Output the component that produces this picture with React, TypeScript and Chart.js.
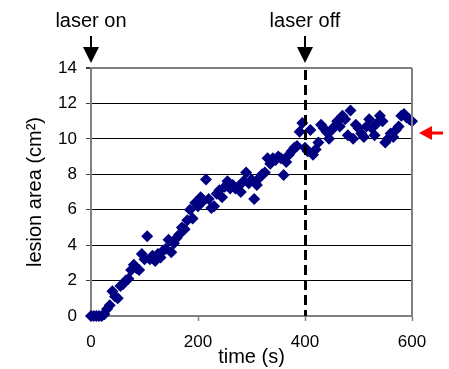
import React, { useEffect, useRef } from "react";
import { Chart, registerables } from "chart.js";

Chart.register(...registerables);

const times: number[] = [
  0, 5, 10, 15, 20, 25, 30, 35, 40, 45, 50, 55, 60, 65, 70, 75, 80, 85, 90, 95,
  100, 105, 110, 115, 120, 125, 130, 135, 140, 145, 150, 155, 160, 165, 170, 175, 180, 185, 190, 195,
  200, 205, 210, 215, 220, 225, 230, 235, 240, 245, 250, 255, 260, 265, 270, 275, 280, 285, 290, 295,
  300, 305, 310, 315, 320, 325, 330, 335, 340, 345, 350, 355, 360, 365, 370, 375, 380, 385, 390, 395,
  400, 405, 410, 415, 420, 425, 430, 435, 440, 445, 450, 455, 460, 465, 470, 475, 480, 485, 490, 495,
  500, 505, 510, 515, 520, 525, 530, 535, 540, 545, 550, 555, 560, 565, 570, 575, 580, 585, 590, 595, 600,
];

const lesionArea: number[] = [
  0, 0, 0, 0, 0, 0.1, 0.4, 0.6, 1.4, 1.1, 1.0, 1.7, 1.8, 2.0, 2.1, 2.6, 2.9, 2.7, 2.6, 3.5,
  3.2, 4.5, 3.2, 3.4, 3.1, 3.5, 3.3, 3.7, 3.8, 4.3, 3.6, 4.1, 4.4, 4.6, 5.0, 4.9, 5.4, 6.0, 5.5, 6.4,
  6.2, 6.7, 6.5, 7.7, 6.6, 6.1, 6.2, 6.9, 7.1, 6.7, 7.3, 7.6, 7.2, 7.4, 7.2, 7.3, 7.0, 7.6, 8.1, 7.5,
  7.7, 6.6, 7.4, 7.8, 8.0, 8.1, 8.9, 8.6, 8.9, 8.8, 9.0, 8.9, 7.96, 8.7, 9.1, 9.3, 9.5, 9.6, 10.4, 10.9,
  9.5, 9.3, 10.5, 9.1, 9.4, 9.8, 10.8, 10.6, 10.4, 10.0, 10.5, 10.7, 11.0, 10.7, 11.3, 11.1, 10.2, 11.6, 10.0, 10.8,
  10.6, 10.3, 10.1, 10.7, 11.1, 10.6, 10.2, 10.9, 11.3, 11.0, 9.8, 10.0, 10.3, 10.1, 10.5, 10.7, 11.3, 11.4, 11.2, 11.1, 11.0,
];

const xTicks: number[] = [0, 200, 400, 600];
const yTicks: number[] = [0, 2, 4, 6, 8, 10, 12, 14];

const laserOnTime = 0;
const laserOffTime = 400;
const plateauLevel = 10.33;

const FONT = "'Liberation Sans', Arial, sans-serif";

const annotationPlugin = {
  id: "annotations",
  afterDatasetsDraw(chart: any) {
    const { ctx, chartArea, scales } = chart;
    const xs = scales.x;
    const ys = scales.y;
    ctx.save();
    // right border
    ctx.strokeStyle = "#808080";
    ctx.lineWidth = 2;
    ctx.beginPath();
    ctx.moveTo(chartArea.right, chartArea.top);
    ctx.lineTo(chartArea.right, chartArea.bottom);
    ctx.stroke();
    // dashed laser-off line
    const xOff = Math.round(xs.getPixelForValue(laserOffTime)) + 0.5;
    ctx.strokeStyle = "#000";
    ctx.lineWidth = 3;
    ctx.setLineDash([10, 5]);
    ctx.beginPath();
    ctx.moveTo(xOff, chartArea.top + 2);
    ctx.lineTo(xOff, chartArea.bottom);
    ctx.stroke();
    ctx.setLineDash([]);

    const drawDownArrow = (x: number, label: string) => {
      ctx.fillStyle = "#000";
      ctx.font = `20px ${FONT}`;
      ctx.textAlign = "center";
      ctx.textBaseline = "alphabetic";
      ctx.fillText(label, x, 27);
      ctx.strokeStyle = "#000";
      ctx.lineWidth = 2;
      ctx.beginPath();
      ctx.moveTo(x, 36);
      ctx.lineTo(x, 50);
      ctx.stroke();
      ctx.beginPath();
      ctx.moveTo(x - 8, 47);
      ctx.lineTo(x + 8, 47);
      ctx.lineTo(x, 63);
      ctx.closePath();
      ctx.fill();
    };
    drawDownArrow(xs.getPixelForValue(laserOnTime), "laser on");
    drawDownArrow(xs.getPixelForValue(laserOffTime), "laser off");

    // red arrow
    const yr = ys.getPixelForValue(plateauLevel);
    const tipX = chartArea.right + 7;
    ctx.fillStyle = "#ff0000";
    ctx.strokeStyle = "#ff0000";
    ctx.lineWidth = 3;
    ctx.beginPath();
    ctx.moveTo(tipX + 10, yr);
    ctx.lineTo(tipX + 24, yr);
    ctx.stroke();
    ctx.beginPath();
    ctx.moveTo(tipX, yr);
    ctx.lineTo(tipX + 13, yr - 7);
    ctx.lineTo(tipX + 13, yr + 7);
    ctx.closePath();
    ctx.fill();
    ctx.restore();
  },
};

export default function App() {
  const canvasRef = useRef<HTMLCanvasElement | null>(null);

  useEffect(() => {
    document.body.style.margin = "0";
    const canvas = canvasRef.current;
    if (!canvas) return;
    const chart = new Chart(canvas, {
      type: "scatter",
      data: {
        datasets: [
          {
            label: "lesion area",
            data: times.map((t, i) => ({ x: t, y: lesionArea[i] })),
            pointStyle: "rectRot",
            pointRadius: 6,
            backgroundColor: "#000080",
            borderColor: "#000080",
            borderWidth: 0,
            clip: false as any,
          },
        ],
      },
      options: {
        animation: false,
        responsive: false,
        devicePixelRatio: 1,
        layout: { padding: { top: 68, right: 37, left: 0, bottom: 0 } },
        plugins: {
          legend: { display: false },
          tooltip: { enabled: false },
        },
        scales: {
          x: {
            type: "linear",
            min: 0,
            max: 600,
            afterFit: (s: any) => {
              s.height = 53;
            },
            afterBuildTicks: (s: any) => {
              s.ticks = xTicks.map((v) => ({ value: v }));
            },
            ticks: {
              color: "#000",
              font: { family: FONT, size: 17 },
              padding: 11,
              maxRotation: 0,
            },
            grid: {
              drawOnChartArea: false,
              drawTicks: true,
              tickLength: 5,
              tickColor: "#808080",
              tickWidth: 1.5,
            },
            border: { color: "#808080", width: 2 },
            title: {
              display: true,
              text: "time (s)",
              color: "#000",
              font: { family: FONT, size: 20 },
              padding: { top: 0, bottom: 0 },
            },
          },
          y: {
            type: "linear",
            min: 0,
            max: 14,
            afterFit: (s: any) => {
              s.width = 91;
            },
            afterBuildTicks: (s: any) => {
              s.ticks = yTicks.map((v) => ({ value: v }));
            },
            ticks: {
              color: "#000",
              font: { family: FONT, size: 17 },
              padding: 9,
            },
            grid: {
              color: (c: any) =>
                c.tick && (c.tick.value === 14 || c.tick.value === 0) ? "#808080" : "#000",
              lineWidth: (c: any) => (c.tick && c.tick.value === 14 ? 2 : 1),
              drawTicks: true,
              tickLength: 5,
              tickColor: "#404040",
            },
            border: { color: "#808080", width: 2 },
            title: {
              display: true,
              text: "lesion area (cm²)",
              color: "#000",
              font: { family: FONT, size: 20 },
              padding: { top: 23, bottom: 0 },
            },
          },
        },
      },
      plugins: [annotationPlugin],
    });
    return () => chart.destroy();
  }, []);

  return (
    <div style={{ width: 449, height: 369 }}>
      <canvas ref={canvasRef} width={449} height={369} />
    </div>
  );
}
